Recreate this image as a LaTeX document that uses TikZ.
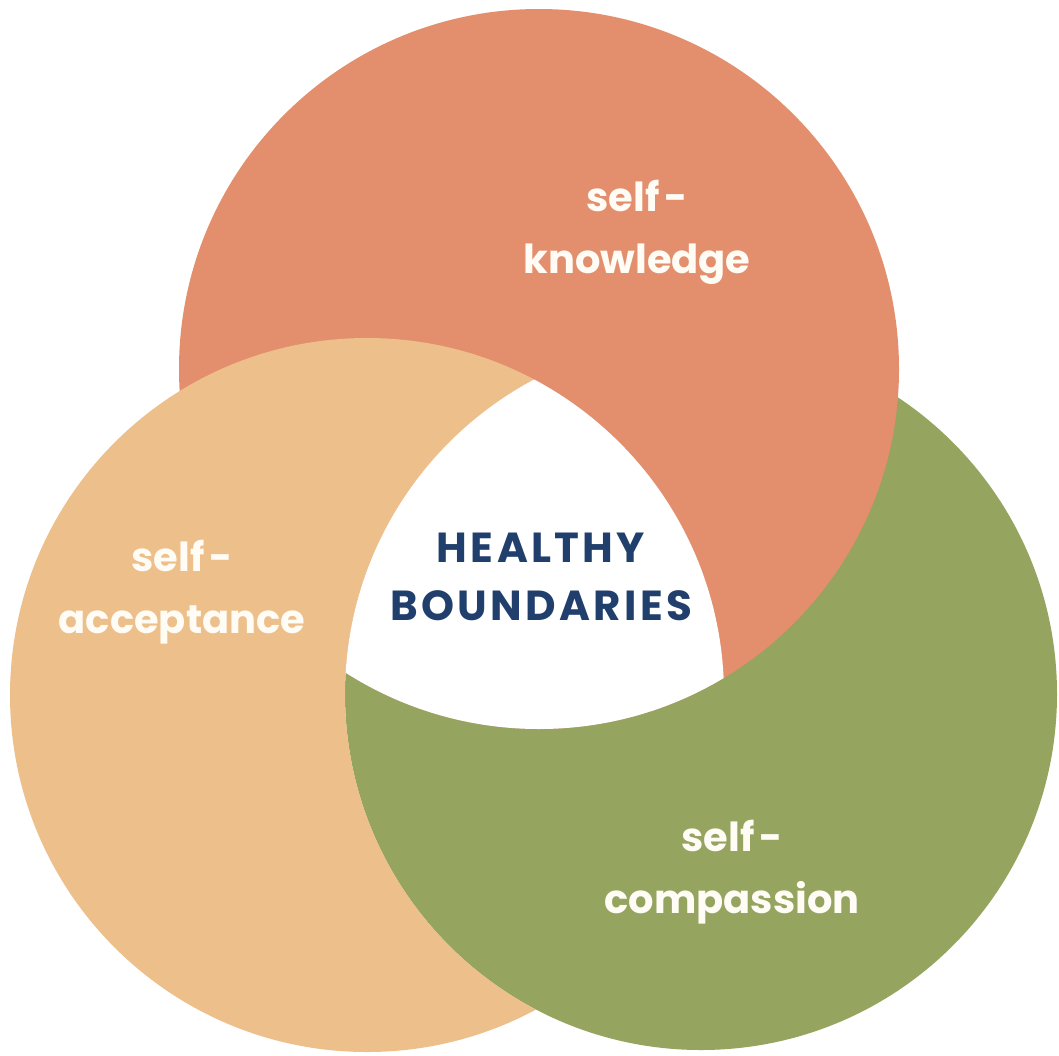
\documentclass[tikz,border=0pt]{standalone}
\usepackage{fontspec}
\setmainfont{Poppins}
\newfontfamily\titlefont{Poppins}[LetterSpace=8]
\definecolor{corange}{RGB}{227,143,109}
\definecolor{ctan}{RGB}{237,191,138}
\definecolor{cgreen}{RGB}{149,164,95}
\definecolor{cnavy}{RGB}{32,63,109}
\definecolor{ctext}{RGB}{255,252,245}
\begin{document}
\begin{tikzpicture}[x=1pt,y=-1pt,
  label/.style={text=ctext, align=center, inner sep=0pt,
    font=\fontsize{40}{62}\selectfont\bfseries},
  title/.style={text=cnavy, align=center, inner sep=0pt,
    font=\titlefont\fontsize{42}{58}\selectfont\bfseries}]
  \def\greencircle{(701,694) circle[radius=356]}
  \def\orangecircle{(539,369) circle[radius=360]}
  \def\tancircle{(367,695) circle[radius=357]}
  \useasboundingbox (0,0) rectangle (1059,1055);
  \fill[white] (0,0) rectangle (1059,1055);
  % green disc, orange disc on top of it
  \fill[cgreen] \greencircle;
  \fill[corange] \orangecircle;
  % tan disc over orange, kept outside the green disc
  \begin{scope}[even odd rule]
    \clip (-20,-20) rectangle (1080,1080) \greencircle;
    \fill[ctan] \tancircle;
  \end{scope}
  % common part of all three discs stays white
  \begin{scope}
    \clip \greencircle;
    \clip \tancircle;
    \fill[white] \orangecircle;
  \end{scope}
  \node[label] (know) at (637,232) {self\kern0.12em-\\knowledge};
  \node[label] (accept) at (182,592) {self\kern0.12em-\\acceptance};
  \node[label] (comp) at (732,872) {self\kern0.12em-\\compassion};
  \node[title] (hb) at (541,577) {HEALTHY\\BOUNDARIES};
\end{tikzpicture}
\end{document}
